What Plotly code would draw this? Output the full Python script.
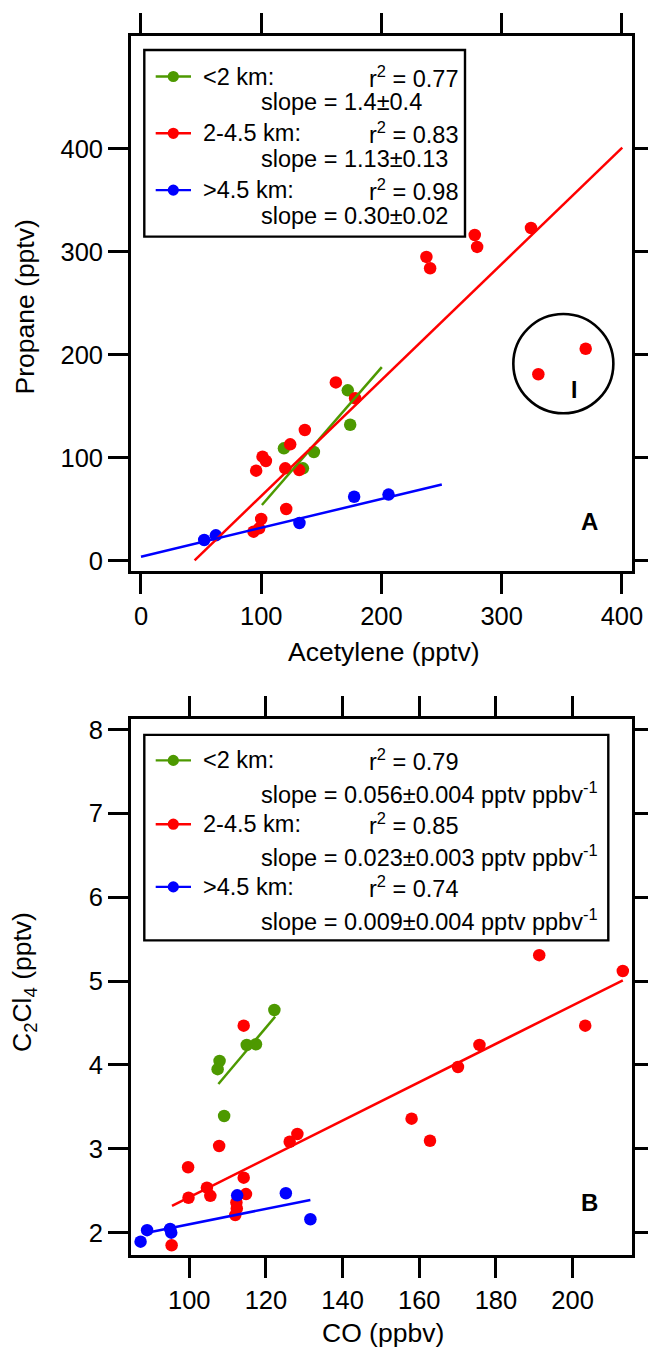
import plotly.graph_objects as go

# ---------------- Panel A: Propane vs Acetylene (pptv) ----------------
a_green_x = [118.9, 134.7, 143.8, 174.0, 172.0]
a_green_y = [109.1, 89.7, 105.5, 132.0, 165.4]
a_red_x = [95.8, 101.1, 103.9, 120.0, 124.1, 131.6, 136.3, 100.0, 93.6, 98.3,
           120.8, 162.1, 178.1, 237.4, 240.5, 277.6, 279.6, 324.4, 330.5, 369.9]
a_red_y = [87.4, 101.0, 96.8, 89.7, 113.0, 88.0, 126.9, 40.5, 28.2, 31.4,
           50.2, 173.1, 157.7, 294.9, 283.9, 316.2, 304.6, 323.0, 181.0, 205.8]
a_blue_x = [52.6, 62.3, 131.8, 177.3, 205.9]
a_blue_y = [20.1, 24.6, 36.6, 62.1, 64.2]
# fitted lines (end points)
a_green_fit_x = [100.6, 200.3]
a_green_fit_y = [54.1, 187.9]
a_red_fit_x = [44.6, 400.3]
a_red_fit_y = [0.4, 401.0]
a_blue_fit_x = [0.0, 250.2]
a_blue_fit_y = [3.9, 74.0]
a_xticks = [0, 100, 200, 300, 400]
a_yticks = [0, 100, 200, 300, 400]
a_legend_labels = ["<2 km:", "2-4.5 km:", ">4.5 km:"]
a_legend_r2 = ["0.77", "0.83", "0.98"]
a_legend_slope = ["1.4±0.4", "1.13±0.13", "0.30±0.02"]

# ---------------- Panel B: C2Cl4 vs CO ----------------
b_green_x = [122.2, 115.0, 117.4, 107.9, 107.4, 109.1]
b_green_y = [4.656, 4.238, 4.247, 4.048, 3.95, 3.392]
b_red_x = [95.4, 99.8, 99.7, 104.6, 105.5, 107.8, 112.3, 112.4, 112.0, 114.2, 114.8,
           126.2, 128.2, 114.2, 191.3, 213.1, 203.3, 175.7, 170.1, 158.0, 162.8]
b_red_y = [1.85, 2.417, 2.78, 2.537, 2.44, 3.034, 2.36, 2.29, 2.21, 2.656, 2.46,
           3.085, 3.177, 4.469, 5.31, 5.121, 4.469, 4.239, 3.976, 3.36, 3.097]
b_blue_x = [87.3, 89.0, 95.0, 95.3, 112.5, 125.2, 131.6]
b_blue_y = [1.893, 2.03, 2.044, 2.0, 2.446, 2.47, 2.16]
b_green_fit_x = [107.6, 122.4]
b_green_fit_y = [3.773, 4.576]
b_red_fit_x = [95.5, 213.1]
b_red_fit_y = [2.32, 5.01]
b_blue_fit_x = [89.0, 131.6]
b_blue_fit_y = [2.0, 2.39]
b_xticks = [100, 120, 140, 160, 180, 200]
b_yticks = [2, 3, 4, 5, 6, 7, 8]
b_legend_labels = ["<2 km:", "2-4.5 km:", ">4.5 km:"]
b_legend_r2 = ["0.79", "0.85", "0.74"]
b_legend_slope = ["0.056±0.004", "0.023±0.003", "0.009±0.004"]

GREEN = "#4d9900"
RED = "#ff0000"
BLUE = "#0000ff"
colors = [GREEN, RED, BLUE]
FONT = "Liberation Sans, Arial, Helvetica, sans-serif"

W, H = 648, 1351
ML, MR, MT, MB = 131, 16, 36, 96
PW = W - ML - MR
PH = H - MT - MB


def pxx(x):
    return (x - ML) / PW


def pyy(y):
    return (H - MB - y) / PH


fig = go.Figure()

MS = 12.5
LW = 2.5
for xs, ys, c in [(a_green_x, a_green_y, GREEN), (a_red_x, a_red_y, RED), (a_blue_x, a_blue_y, BLUE)]:
    fig.add_trace(go.Scatter(x=xs, y=ys, mode="markers", marker=dict(color=c, size=MS, line=dict(width=0)),
                             xaxis="x", yaxis="y", showlegend=False))
for xs, ys, c in [(a_green_fit_x, a_green_fit_y, GREEN), (a_red_fit_x, a_red_fit_y, RED), (a_blue_fit_x, a_blue_fit_y, BLUE)]:
    fig.add_trace(go.Scatter(x=xs, y=ys, mode="lines", line=dict(color=c, width=LW),
                             xaxis="x", yaxis="y", showlegend=False))
for xs, ys, c in [(b_green_x, b_green_y, GREEN), (b_red_x, b_red_y, RED), (b_blue_x, b_blue_y, BLUE)]:
    fig.add_trace(go.Scatter(x=xs, y=ys, mode="markers", marker=dict(color=c, size=MS, line=dict(width=0)),
                             xaxis="x2", yaxis="y2", showlegend=False))
for xs, ys, c in [(b_green_fit_x, b_green_fit_y, GREEN), (b_red_fit_x, b_red_fit_y, RED), (b_blue_fit_x, b_blue_fit_y, BLUE)]:
    fig.add_trace(go.Scatter(x=xs, y=ys, mode="lines", line=dict(color=c, width=LW),
                             xaxis="x2", yaxis="y2", showlegend=False))

ax = dict(showline=True, linecolor="black", linewidth=2.8, mirror="allticks", ticks="outside",
          ticklen=20, tickwidth=2.8, tickcolor="black", showgrid=False, zeroline=False,
          automargin=False,
          tickfont=dict(size=25.5, color="black", family=FONT))

top_dom = [(H - MB - 571) / PH, 1.0]
bot_dom = [0.0, (H - MB - 719) / PH]

fig.update_layout(
    width=W, height=H, autosize=False,
    margin=dict(l=ML, r=MR, t=MT, b=MB, autoexpand=False),
    paper_bgcolor="white", plot_bgcolor="white",
    font=dict(family=FONT, color="black"),
    xaxis=dict(ax, range=[-8.3, 408.4], tickvals=a_xticks, anchor="y", domain=[0, 1]),
    yaxis=dict(ax, range=[-10, 509.4], tickvals=a_yticks, anchor="x", domain=top_dom),
    xaxis2=dict(ax, range=[84.8, 215.5], tickvals=b_xticks, anchor="y2", domain=[0, 1]),
    yaxis2=dict(ax, range=[1.734, 8.126], tickvals=b_yticks, anchor="x2", domain=bot_dom),
)

shapes = []
annotations = []
LFS = 23.5


def legend_block(box, rows, sample_rows, labels, r2s, slopes, unit):
    x0, y0, x1, y1 = box
    shapes.append(dict(type="rect", xref="paper", yref="paper", x0=pxx(x0), x1=pxx(x1),
                       y0=pyy(y1), y1=pyy(y0), line=dict(color="black", width=2.4),
                       fillcolor="white", layer="above"))
    for i in range(3):
        ry = sample_rows[i]
        shapes.append(dict(type="line", xref="paper", yref="paper", x0=pxx(155.7), x1=pxx(191),
                           y0=pyy(ry), y1=pyy(ry), line=dict(color=colors[i], width=2.4)))
        shapes.append(dict(type="circle", xref="paper", yref="paper", xsizemode="pixel",
                           ysizemode="pixel", xanchor=pxx(173.3), yanchor=pyy(ry),
                           x0=-5.6, x1=5.6, y0=-5.6, y1=5.6,
                           fillcolor=colors[i], line=dict(color=colors[i], width=0)))
        annotations.append(dict(xref="paper", yref="paper", x=pxx(201), y=pyy(rows[2 * i]),
                                xanchor="left", yanchor="middle", showarrow=False,
                                text=labels[i].replace("<", "&lt;").replace(">", "&gt;"),
                                font=dict(size=LFS)))
        annotations.append(dict(xref="paper", yref="paper", x=pxx(367), y=pyy(rows[2 * i]),
                                xanchor="left", yanchor="middle", showarrow=False,
                                text="r<sup>2</sup> = " + r2s[i], font=dict(size=LFS)))
        annotations.append(dict(xref="paper", yref="paper", x=pxx(259), y=pyy(rows[2 * i + 1]),
                                xanchor="left", yanchor="middle", showarrow=False,
                                text="slope = " + slopes[i] + unit, font=dict(size=LFS)))


legend_block((144.3, 50, 465, 236.6), [76.5, 102.3, 133.3, 159.1, 190.1, 216.0],
             [76.5, 133.3, 190.1], a_legend_labels, a_legend_r2, a_legend_slope, "")
legend_block((144.3, 734.9, 608.3, 940.4), [760.4, 792.8, 824.2, 855.6, 886.9, 920.1],
             [760.4, 824.2, 886.9], b_legend_labels, b_legend_r2, b_legend_slope,
             " pptv ppbv<sup>-1</sup>")

# circled group "I"
shapes.append(dict(type="circle", xref="x", yref="y", x0=309.7, x1=392.9, y0=143.1, y1=239.5,
                   line=dict(color="black", width=2.6)))
annotations.append(dict(xref="paper", yref="paper", x=pxx(574.3), y=pyy(389.7), text="<b>I</b>",
                        showarrow=False, xanchor="center", yanchor="middle", font=dict(size=23)))
# panel labels
annotations.append(dict(xref="paper", yref="paper", x=pxx(589.3), y=pyy(521.4), text="<b>A</b>",
                        showarrow=False, xanchor="center", yanchor="middle", font=dict(size=24)))
annotations.append(dict(xref="paper", yref="paper", x=pxx(589.3), y=pyy(1202.4), text="<b>B</b>",
                        showarrow=False, xanchor="center", yanchor="middle", font=dict(size=24)))
# axis titles
TFS = 26.5
annotations.append(dict(xref="paper", yref="paper", x=pxx(383), y=pyy(652), text="Acetylene (pptv)",
                        showarrow=False, xanchor="center", yanchor="middle", font=dict(size=TFS)))
annotations.append(dict(xref="paper", yref="paper", x=pxx(383), y=pyy(1333), text="CO (ppbv)",
                        showarrow=False, xanchor="center", yanchor="middle", font=dict(size=TFS)))
annotations.append(dict(xref="paper", yref="paper", x=pxx(24), y=pyy(307.5), text="Propane (pptv)",
                        showarrow=False, xanchor="center", yanchor="middle", textangle=-90,
                        font=dict(size=TFS)))
annotations.append(dict(xref="paper", yref="paper", x=pxx(24), y=pyy(982),
                        text="C<sub>2</sub>Cl<sub>4</sub> (pptv)",
                        showarrow=False, xanchor="center", yanchor="middle", textangle=-90,
                        font=dict(size=TFS)))

fig.update_layout(shapes=shapes, annotations=annotations)
fig.write_html("out.html")
